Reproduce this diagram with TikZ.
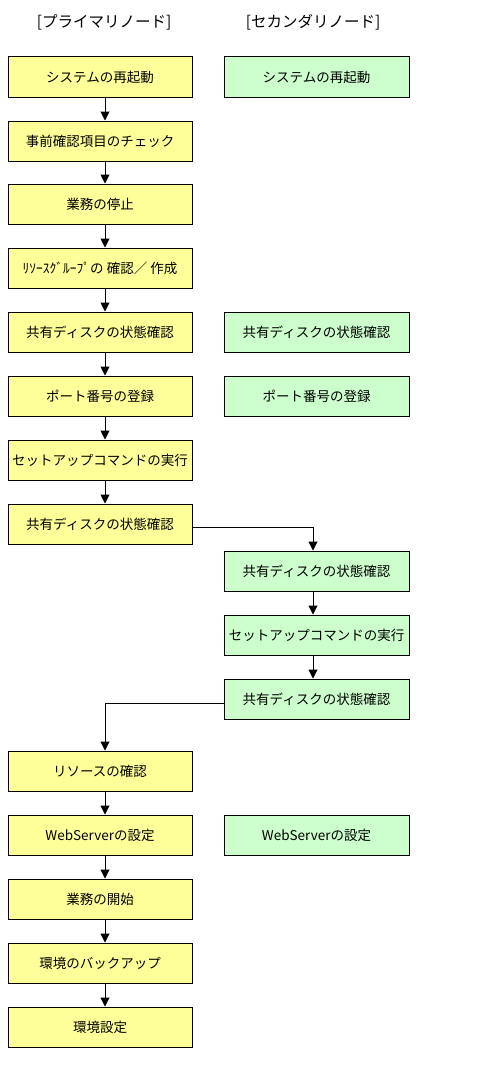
\documentclass[tikz,border=0pt]{standalone}
\usepackage{fontspec}
\setmainfont{Noto Sans CJK JP}
\usetikzlibrary{arrows.meta}
\definecolor{primfill}{HTML}{FFFF99}
\definecolor{secfill}{HTML}{CCFFCC}
\begin{document}
\begin{tikzpicture}[x=1pt, y=-1pt, line width=1pt,
	prim/.style={draw, fill=primfill, minimum width=184pt, minimum height=40pt, inner sep=0pt, font=\fontsize{13.5}{15}\selectfont},
	sec/.style={draw, fill=secfill, minimum width=185pt, minimum height=40pt, inner sep=0pt, font=\fontsize{13.5}{15}\selectfont},
	head/.style={font=\fontsize{15.5}{17}\selectfont},
	flow/.style={-{Triangle[width=9pt, length=9pt]}}]
	\useasboundingbox (0,0) rectangle (492,1081);
	% titres
	\node[head] (H1) at (104,22) {[プライマリノード]};
	\node[head] (H2) at (313,22) {[セカンダリノード]};
	% noeud primaire
	\node[prim] (P1) at (100,77) {システムの再起動};
	\node[prim] (P2) at (100,141) {事前確認項目のチェック};
	\node[prim] (P3) at (100,204) {業務の停止};
	\node[prim] (P4) at (100,268) {ﾘｿｰｽｸﾞﾙｰﾌﾟの 確認／ 作成};
	\node[prim] (P5) at (100,332) {共有ディスクの状態確認};
	\node[prim] (P6) at (100,396) {ポート番号の登録};
	\node[prim] (P7) at (100,460) {セットアップコマンドの実行};
	\node[prim] (P8) at (100,524) {共有ディスクの状態確認};
	\node[prim] (P9) at (100,771) {リソースの確認};
	\node[prim] (P10) at (100,835) {WebServerの設定};
	\node[prim] (P11) at (100,899) {業務の開始};
	\node[prim] (P12) at (100,963) {環境のバックアップ};
	\node[prim] (P13) at (100,1027) {環境設定};
	% noeud secondaire
	\node[sec] (S1) at (316.5,77) {システムの再起動};
	\node[sec] (S2) at (316.5,332) {共有ディスクの状態確認};
	\node[sec] (S3) at (316.5,396) {ポート番号の登録};
	\node[sec] (S4) at (316.5,571) {共有ディスクの状態確認};
	\node[sec] (S5) at (316.5,635) {セットアップコマンドの実行};
	\node[sec] (S6) at (316.5,699) {共有ディスクの状態確認};
	\node[sec] (S7) at (316.5,835) {WebServerの設定};
	% fleches
	\foreach \a/\b in {P1/P2, P2/P3, P3/P4, P4/P5, P5/P6, P6/P7, P7/P8, P9/P10, P10/P11, P11/P12, P12/P13}
		\draw[flow] ([xshift=5pt]\a.south) -- ([xshift=5pt]\b.north);
	\foreach \a/\b in {S4/S5, S5/S6}
		\draw[flow] ([xshift=-3.5pt]\a.south) -- ([xshift=-3.5pt]\b.north);
	\draw[flow] ([yshift=-3pt]P8.east) -| ([xshift=-3.5pt]S4.north);
	\draw[flow] ([yshift=-4pt]S6.west) -| ([xshift=5pt]P9.north);
\end{tikzpicture}
\end{document}
